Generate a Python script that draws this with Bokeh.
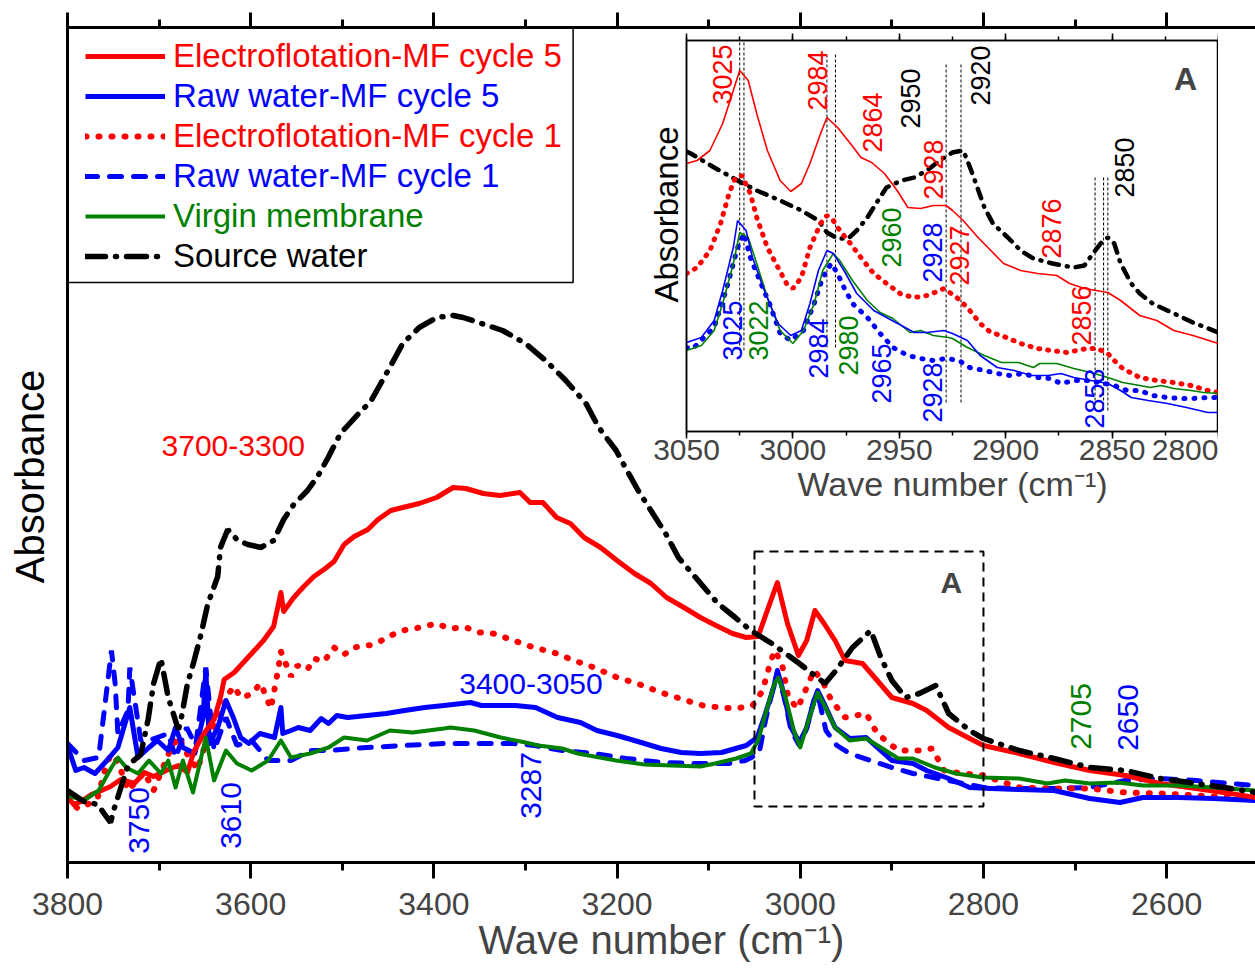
import math
from bokeh.plotting import figure
from bokeh.models import (Range1d, LinearAxis, SingleIntervalTicker, FixedTicker, Legend, LegendItem,
                          BoxAnnotation, Label, ColumnDataSource)
from bokeh.layouts import column
from bokeh.embed import file_html
from bokeh.resources import INLINE
from bokeh.core.properties import value

FONT = "Liberation Sans"
RED, BLUE, GREEN, BLACK = "#ff0000", "#0000ff", "#008000", "#000000"

# ---------------- main spectra (wave number, absorbance a.u.) ----------------
sw_wn = [3800, 3782, 3767, 3753, 3749, 3734, 3720, 3712, 3706, 3698, 3690, 3679, 3676, 3669, 3662, 3654,
         3647, 3636, 3633, 3625, 3614, 3603, 3589, 3575, 3564, 3553, 3538, 3527, 3516, 3502, 3491, 3480,
         3469, 3458, 3447, 3434, 3416, 3397, 3379, 3368, 3351, 3325, 3300, 3278, 3256, 3234, 3220, 3201,
         3191, 3177, 3161, 3147, 3133, 3118, 3104, 3090, 3071, 3054, 3031, 3001, 2973, 2961, 2943, 2923,
         2912, 2900, 2885, 2870, 2852, 2838, 2815, 2800, 2761, 2723, 2684, 2645, 2607, 2568, 2530, 2503]
sw_ab = [72, 61, 58, 40, 54, 97, 108, 143, 179, 204, 165, 133, 143, 179, 201, 229,
         258, 286, 315, 333, 322, 318, 315, 322, 343, 358, 372, 386, 404, 429, 440, 451,
         461, 479, 497, 519, 535, 545, 547, 545, 540, 532, 519, 502, 482, 459, 435, 412,
         395, 372, 349, 329, 305, 289, 274, 259, 245, 232, 219, 199, 179, 192, 215, 232,
         205, 182, 165, 169, 177, 149, 132, 124, 112, 104, 95, 92, 84, 79, 74, 70]

ef5_wn = [3800, 3793, 3785, 3774, 3763, 3753, 3742, 3727, 3716, 3706, 3690, 3679, 3669, 3662, 3651, 3640,
          3633, 3629, 3618, 3607, 3597, 3586, 3575, 3567, 3564, 3553, 3542, 3531, 3520, 3509, 3498, 3487,
          3472, 3461, 3447, 3434, 3416, 3397, 3379, 3365, 3346, 3328, 3306, 3295, 3281, 3266, 3251, 3236,
          3218, 3200, 3181, 3163, 3146, 3127, 3109, 3092, 3074, 3059, 3046, 3036, 3025, 3014, 3002, 2993,
          2984, 2974, 2962, 2951, 2932, 2916, 2900, 2877, 2862, 2838, 2815, 2800, 2761, 2723, 2684, 2645,
          2607, 2568, 2530, 2503]
ef5_ab = [65, 58, 61, 68, 72, 76, 83, 79, 90, 86, 93, 97, 90, 111, 129, 143,
          165, 183, 190, 201, 211, 222, 236, 270, 251, 265, 276, 286, 293, 301, 318, 326,
          333, 343, 352, 355, 359, 365, 375, 374, 369, 367, 370, 360, 360, 345, 339, 325,
          315, 302, 289, 279, 265, 255, 245, 237, 229, 225, 226, 252, 280, 239, 207, 222,
          252, 239, 222, 202, 199, 182, 165, 159, 152, 135, 124, 117, 109, 100, 92, 87,
          79, 74, 69, 65]

ef1_wn = [3800, 3789, 3778, 3767, 3760, 3753, 3745, 3734, 3727, 3716, 3706, 3698, 3690, 3679, 3669, 3658,
          3647, 3636, 3625, 3618, 3611, 3600, 3589, 3578, 3575, 3570, 3567, 3556, 3549, 3538, 3531, 3520,
          3509, 3498, 3487, 3465, 3447, 3434, 3416, 3397, 3383, 3365, 3350, 3335, 3313, 3291, 3269, 3247,
          3225, 3200, 3178, 3149, 3124, 3106, 3088, 3070, 3052, 3041, 3033, 3028, 3020, 3013, 3003, 2993,
          2985, 2976, 2966, 2951, 2928, 2916, 2893, 2870, 2856, 2843, 2823, 2800, 2761, 2723, 2684, 2645,
          2607, 2568, 2530, 2503]
ef1_ab = [65, 54, 58, 65, 90, 108, 101, 72, 79, 90, 72, 90, 108, 126, 108, 93,
          126, 143, 168, 176, 165, 168, 179, 154, 168, 193, 211, 186, 197, 193, 204, 201,
          215, 208, 215, 218, 227, 232, 235, 239, 234, 235, 230, 229, 222, 215, 210, 202,
          195, 185, 179, 169, 162, 157, 155, 154, 157, 172, 199, 212, 199, 165, 154, 175,
          192, 182, 162, 145, 149, 129, 112, 112, 114, 92, 89, 87, 75, 74, 74, 70,
          69, 67, 65, 64]

rw5_wn = [3800, 3791, 3782, 3770, 3757, 3745, 3732, 3723, 3711, 3702, 3690, 3682, 3674, 3661, 3652, 3649,
          3645, 3636, 3627, 3619, 3611, 3602, 3590, 3574, 3567, 3565, 3556, 3548, 3535, 3523, 3515, 3506,
          3494, 3473, 3452, 3432, 3410, 3389, 3360, 3348, 3311, 3289, 3265, 3240, 3222, 3200, 3181, 3152,
          3130, 3109, 3086, 3059, 3047, 3038, 3029, 3025, 3018, 3010, 3001, 2993, 2985, 2981, 2974, 2962,
          2946, 2928, 2916, 2900, 2877, 2862, 2838, 2815, 2792, 2761, 2723, 2684, 2651, 2626, 2587, 2549,
          2503]
rw5_ab = [117, 92, 95, 89, 102, 115, 155, 105, 115, 122, 112, 135, 115, 109, 145, 192,
          119, 135, 162, 145, 125, 119, 129, 125, 155, 129, 132, 135, 132, 144, 139, 147,
          145, 147, 149, 152, 155, 157, 160, 157, 157, 155, 145, 140, 132, 127, 122, 114,
          110, 109, 110, 117, 125, 149, 175, 192, 169, 135, 120, 135, 162, 172, 159, 135,
          124, 125, 115, 102, 99, 92, 84, 75, 74, 73, 72, 64, 60, 65, 65, 64,
          62]

rw1_wn = [3800, 3782, 3766, 3752, 3748, 3745, 3734, 3732, 3720, 3711, 3690, 3682, 3670, 3660, 3649, 3640,
          3627, 3615, 3599, 3581, 3556, 3535, 3515, 3473, 3432, 3389, 3348, 3313, 3290, 3260, 3225, 3190,
          3150, 3115, 3078, 3060, 3045, 3038, 3029, 3025, 3018, 3010, 3001, 2993, 2985, 2981, 2972, 2960,
          2946, 2923, 2900, 2877, 2838, 2800, 2761, 2723, 2684, 2645, 2607, 2568, 2530, 2503]
rw1_ab = [119, 102, 105, 212, 179, 129, 152, 195, 122, 122, 129, 105, 135, 117, 195, 112,
          145, 117, 122, 102, 102, 112, 112, 115, 117, 119, 119, 119, 117, 112, 109, 104,
          100, 99, 99, 102, 109, 142, 177, 189, 167, 132, 117, 134, 162, 169, 132, 117,
          109, 102, 95, 89, 82, 75, 74, 74, 75, 82, 84, 82, 79, 77]

vm_wn = [3800, 3782, 3766, 3752, 3745, 3736, 3723, 3711, 3698, 3690, 3682, 3674, 3663, 3649, 3640, 3627,
         3615, 3599, 3581, 3567, 3556, 3535, 3515, 3498, 3473, 3448, 3423, 3389, 3382, 3356, 3327, 3300,
         3286, 3260, 3243, 3201, 3170, 3140, 3109, 3093, 3070, 3054, 3046, 3036, 3028, 3024, 3016, 3007,
         3000, 2991, 2981, 2971, 2962, 2946, 2928, 2912, 2893, 2877, 2853, 2830, 2800, 2761, 2730, 2711,
         2684, 2653, 2626, 2587, 2549, 2503]
vm_ab = [67, 62, 72, 95, 105, 95, 89, 102, 89, 102, 75, 102, 70, 125, 82, 112,
         99, 92, 102, 122, 105, 109, 115, 125, 122, 132, 130, 134, 135, 132, 125, 120,
         117, 114, 109, 102, 98, 97, 96, 99, 104, 109, 122, 155, 179, 185, 165, 132,
         115, 142, 170, 152, 135, 122, 124, 115, 104, 104, 95, 89, 85, 84, 79, 82,
         79, 80, 77, 77, 75, 72]

# ---------------- inset spectra (3050-2800 cm-1) ----------------
i_ef5_wn = [3050, 3045, 3039, 3033, 3028, 3025, 3021, 3017, 3012, 3006, 3001, 2996, 2992, 2987, 2984, 2979,
            2973, 2968, 2963, 2957, 2951, 2946, 2940, 2934, 2928, 2925, 2920, 2913, 2907, 2901, 2893, 2885,
            2876, 2870, 2863, 2852, 2846, 2837, 2829, 2821, 2812, 2800]
i_ef5_ab = [268, 271, 281, 308, 341, 361, 351, 318, 281, 251, 240, 248, 268, 298, 314, 304,
            288, 274, 269, 258, 241, 224, 223, 226, 226, 221, 211, 194, 181, 168, 161, 158,
            156, 148, 143, 139, 131, 116, 111, 101, 96, 88]

i_ef1_wn = [3050, 3045, 3039, 3034, 3030, 3027, 3024, 3020, 3017, 3012, 3007, 3003, 3000, 2996, 2992, 2987,
            2984, 2981, 2978, 2973, 2967, 2962, 2956, 2949, 2943, 2937, 2931, 2929, 2923, 2918, 2912, 2907,
            2902, 2893, 2885, 2879, 2871, 2862, 2857, 2852, 2849, 2845, 2837, 2829, 2821, 2813, 2805, 2800]
i_ef1_ab = [158, 164, 181, 208, 238, 254, 256, 238, 214, 184, 164, 148, 143, 154, 184, 208,
            216, 211, 201, 188, 171, 158, 148, 137, 134, 136, 141, 143, 134, 124, 108, 99,
            96, 88, 83, 81, 79, 83, 83, 78, 71, 63, 54, 51, 49, 46, 41, 39]

i_sw_wn = [3050, 3048, 3037, 3026, 3017, 3006, 2996, 2988, 2984, 2979, 2974, 2970, 2965, 2960, 2956, 2949,
           2943, 2937, 2931, 2925, 2920, 2918, 2915, 2910, 2906, 2899, 2893, 2887, 2878, 2868, 2863, 2859,
           2855, 2852, 2849, 2846, 2841, 2837, 2831, 2821, 2812, 2800]
i_sw_ab = [280, 278, 264, 251, 241, 231, 221, 211, 199, 193, 193, 201, 214, 231, 244, 251,
           254, 261, 271, 279, 281, 271, 254, 224, 208, 194, 181, 173, 168, 164, 166, 178,
           189, 194, 188, 168, 148, 138, 128, 118, 109, 99]

i_rw5_wn = [3050, 3043, 3037, 3033, 3028, 3026, 3022, 3019, 3014, 3007, 3001, 2996, 2992, 2988, 2984, 2981,
            2976, 2970, 2962, 2956, 2949, 2943, 2937, 2929, 2925, 2918, 2912, 2904, 2896, 2888, 2880, 2874,
            2868, 2860, 2852, 2846, 2841, 2833, 2824, 2815, 2805, 2800]
i_rw5_ab = [89, 94, 111, 141, 184, 211, 201, 174, 144, 108, 96, 101, 128, 161, 181, 178,
            161, 138, 121, 114, 106, 99, 99, 101, 98, 91, 76, 64, 61, 56, 56, 58,
            54, 51, 48, 41, 34, 31, 28, 24, 19, 19]

i_vm_wn = [3050, 3043, 3037, 3033, 3028, 3025, 3021, 3017, 3012, 3006, 3000, 2995, 2990, 2986, 2981, 2978,
           2972, 2965, 2959, 2953, 2945, 2940, 2934, 2927, 2925, 2918, 2910, 2902, 2894, 2887, 2884, 2876,
           2868, 2860, 2852, 2845, 2837, 2832, 2827, 2821, 2813, 2807, 2800]
i_vm_ab = [81, 86, 101, 128, 168, 199, 194, 168, 134, 101, 88, 101, 128, 161, 178, 171,
           151, 131, 119, 113, 99, 101, 96, 94, 93, 84, 76, 69, 69, 64, 68, 68,
           63, 59, 54, 49, 46, 44, 46, 43, 41, 39, 38]

i_rw1_wn = [3050, 3047, 3037, 3031, 3026, 3023, 3020, 3015, 3011, 3006, 3001, 2995, 2990, 2986, 2982, 2979,
            2976, 2972, 2965, 2959, 2953, 2946, 2940, 2934, 2928, 2922, 2917, 2910, 2904, 2898, 2892, 2885,
            2879, 2874, 2868, 2862, 2856, 2849, 2843, 2837, 2831, 2824, 2818, 2812, 2805, 2800]
i_rw1_ab = [84, 83, 104, 144, 184, 198, 174, 148, 128, 98, 91, 101, 128, 154, 168, 158,
            144, 128, 114, 98, 84, 76, 73, 71, 73, 71, 64, 61, 58, 56, 58, 54,
            53, 48, 51, 51, 49, 46, 41, 41, 36, 34, 33, 33, 34, 34]

# band markers in the inset (dashed guide lines)
mark_wn = [3025, 3023, 2984, 2980, 2928, 2921, 2858, 2854, 2852]
mark_top = [389, 389, 379, 379, 369, 369, 256, 256, 256]
mark_bottom = [81, 81, 84, 84, 29, 29, 21, 21, 21]

# peak labels
main_lbl_text = ["3700-3300", "3400-3050", "3750", "3610", "3287", "2705", "2650"]
main_lbl_x = [3619, 3294, 3722, 3622, 3294, 2693, 2642]
main_lbl_y = [417, 179, 42, 47, 77, 146, 145]
main_lbl_color = [RED, BLUE, BLUE, BLUE, BLUE, GREEN, BLUE]
main_lbl_angle = [0, 0, 90, 90, 90, 90, 90]

ins_lbl_text = ["3025", "2984", "2864", "2950", "2928", "3025", "3022", "2984", "2980", "2965",
                "2960", "2928", "2928", "2927", "2920", "2876", "2850", "2856", "2853"]
ins_lbl_x = [3033.1, 2988.4, 2962.6, 2944.7, 2934.0, 3028.4, 3016.2, 2988.0, 2973.9, 2958.4,
             2953.7, 2934.4, 2934.4, 2921.7, 2911.8, 2878.5, 2844.2, 2864.4, 2858.3]
ins_lbl_y = [357, 351, 309, 333, 262, 101, 101, 83, 86, 58,
             194, 179, 39, 176, 356, 203, 264, 116, 33]
ins_lbl_color = [RED, RED, RED, BLACK, RED, BLUE, GREEN, BLUE, GREEN, BLUE,
                 GREEN, BLUE, BLUE, RED, BLACK, RED, BLACK, RED, BLUE]

series_names = ["Electroflotation-MF cycle 5", "Raw water-MF cycle 5", "Electroflotation-MF cycle 1",
                "Raw water-MF cycle 1", "Virgin membrane", "Source water"]

# where the y titles sit along each y axis (absorbance units of the axis)
main_ytitle_pos = 386
inset_ytitle_pos = 217


def silent_labels(axis, standoff):
    axis.major_label_text_font_size = "0px"
    axis.major_label_text_color = None
    axis.major_label_standoff = standoff


def title_axis(axis, pos, size, standoff, line_width):
    """Left axis without ticks whose only label is the vertical axis title."""
    axis.ticker = FixedTicker(ticks=[pos])
    axis.major_label_overrides = {pos: "Absorbance"}
    axis.major_label_orientation = "vertical"
    axis.major_label_text_font = FONT
    axis.major_label_text_font_size = size
    axis.major_label_text_color = "black"
    axis.major_label_standoff = standoff
    axis.axis_line_width = line_width
    axis.major_tick_out = 0
    axis.major_tick_in = 0
    axis.minor_tick_out = 0
    axis.minor_tick_in = 0


# ---------------- main figure ----------------
p = figure(width=1255, height=961, output_backend="svg", toolbar_location=None, title=None,
           x_range=Range1d(3800, 2503), y_range=Range1d(0, 835),
           min_border_left=67, min_border_right=0, min_border_top=15, min_border_bottom=111,
           x_axis_label="Wave number (cm\u207b\u00b9)")
p.outline_line_color = None
p.xgrid.visible = False
p.ygrid.visible = False
p.background_fill_color = "white"
p.border_fill_color = "white"

xa = p.xaxis[0]
xa.ticker = SingleIntervalTicker(interval=200, num_minor_ticks=2)
xa.axis_line_width = 3
xa.major_tick_line_width = 3
xa.minor_tick_line_width = 3
xa.major_tick_out = 16
xa.major_tick_in = 0
xa.minor_tick_out = 8
xa.minor_tick_in = 0
xa.major_label_text_font = FONT
xa.major_label_text_font_size = "32px"
xa.major_label_standoff = 14
xa.axis_label_text_font = FONT
xa.axis_label_text_font_size = "40px"
xa.axis_label_text_font_style = "normal"
xa.axis_label_standoff = 0

title_axis(p.yaxis[0], main_ytitle_pos, "40px", 16, 3)

top = LinearAxis(ticker=SingleIntervalTicker(interval=200, num_minor_ticks=2),
                 axis_line_width=3, major_tick_line_width=3, minor_tick_line_width=3,
                 major_tick_out=15, major_tick_in=0, minor_tick_out=8, minor_tick_in=0)
silent_labels(top, 0)
p.add_layout(top, "above")

r_rw1 = p.line(rw1_wn, rw1_ab, line_color=BLUE, line_width=5, line_dash="12 12", line_cap="round")
r_ef1 = p.line(ef1_wn, ef1_ab, line_color=RED, line_width=6, line_dash="1 12", line_cap="round")
r_rw5 = p.line(rw5_wn, rw5_ab, line_color=BLUE, line_width=5, line_join="round")
r_ef5 = p.line(ef5_wn, ef5_ab, line_color=RED, line_width=5, line_join="round")
r_vm = p.line(vm_wn, vm_ab, line_color=GREEN, line_width=4, line_join="round")
r_sw = p.line(sw_wn, sw_ab, line_color=BLACK, line_width=5.5, line_dash="20 10 1 10", line_cap="round")

p.text(x="x", y="y", text="text", angle="angle", angle_units="deg", text_color="color",
       source=ColumnDataSource(dict(x=main_lbl_x, y=main_lbl_y, text=main_lbl_text,
                                    color=main_lbl_color, angle=main_lbl_angle)),
       text_font=value(FONT), text_font_size=value("30px"), text_align="center", text_baseline="middle")

# dashed region A
p.add_layout(BoxAnnotation(left=3050, right=2800, bottom=56, top=311, fill_alpha=0,
                           line_color="black", line_alpha=1, line_width=2, line_dash="9 6"))
p.add_layout(Label(x=2835, y=280, text="A", text_font=FONT, text_font_size="30px",
                   text_font_style="bold", text_align="center", text_baseline="middle"))

# legend frame and items
p.add_layout(BoxAnnotation(left=3800, right=3248, bottom=580, top=835, fill_alpha=0,
                           line_color="black", line_alpha=1, line_width=1.5))
leg_renderers = [r_ef5, r_rw5, r_ef1, r_rw1, r_vm, r_sw]
leg_colors = [RED, BLUE, RED, BLUE, GREEN, BLACK]
leg_centers = [56, 96, 136, 176, 216, 256]
for name, rend, col, yc in zip(series_names, leg_renderers, leg_colors, leg_centers):
    lg = Legend(items=[LegendItem(label=name, renderers=[rend])],
                location=(18, 862 - (yc + 20)), padding=0, margin=0, spacing=0,
                glyph_width=80, glyph_height=40, label_height=40, label_standoff=8,
                label_text_font=FONT, label_text_font_size="33px", label_text_color=col,
                border_line_alpha=0, background_fill_alpha=0)
    p.add_layout(lg, "center")

# ---------------- inset figure ----------------
q = figure(width=599, height=501, output_backend="svg", toolbar_location=None, title=None,
           x_range=Range1d(3050, 2800), y_range=Range1d(0, 391),
           min_border_left=67, min_border_right=0, min_border_top=20, min_border_bottom=90,
           x_axis_label="Wave number (cm\u207b\u00b9)")
q.background_fill_color = "white"
q.border_fill_color = None
q.outline_line_color = "black"
q.outline_line_width = 1.5
q.xgrid.visible = False
q.ygrid.visible = False

qx = q.xaxis[0]
qx.ticker = SingleIntervalTicker(interval=50, num_minor_ticks=2)
qx.axis_line_width = 1.5
qx.major_tick_line_width = 1.5
qx.minor_tick_line_width = 1.5
qx.major_tick_out = 7
qx.major_tick_in = 0
qx.minor_tick_out = 4
qx.minor_tick_in = 0
qx.major_label_text_font = FONT
qx.major_label_text_font_size = "30px"
qx.major_label_standoff = 1
qx.axis_label_text_font = FONT
qx.axis_label_text_font_size = "34px"
qx.axis_label_text_font_style = "normal"
qx.axis_label_standoff = 2

title_axis(q.yaxis[0], inset_ytitle_pos, "33px", 2, 1.5)

qtop = LinearAxis(ticker=SingleIntervalTicker(interval=50, num_minor_ticks=2),
                  axis_line_width=1.5, major_tick_line_width=1.5, minor_tick_line_width=1.5,
                  major_tick_out=7, major_tick_in=0, minor_tick_out=4, minor_tick_in=0)
silent_labels(qtop, 0)
q.add_layout(qtop, "above")

q.segment(x0=mark_wn, y0=mark_bottom, x1=mark_wn, y1=mark_top,
          line_color="black", line_width=1, line_dash="3 2")
q.line(i_sw_wn, i_sw_ab, line_color=BLACK, line_width=4.5, line_dash="10 8 1 8", line_cap="round")
q.line(i_ef1_wn, i_ef1_ab, line_color=RED, line_width=5, line_dash="1 8", line_cap="round")
q.line(i_rw1_wn, i_rw1_ab, line_color=BLUE, line_width=5, line_dash="1 9", line_cap="round")
q.line(i_ef5_wn, i_ef5_ab, line_color=RED, line_width=1.6)
q.line(i_vm_wn, i_vm_ab, line_color=GREEN, line_width=1.6)
q.line(i_rw5_wn, i_rw5_ab, line_color=BLUE, line_width=1.6)

q.text(x="x", y="y", text="text", angle=90, angle_units="deg", text_color="color",
       source=ColumnDataSource(dict(x=ins_lbl_x, y=ins_lbl_y, text=ins_lbl_text, color=ins_lbl_color)),
       text_font=value(FONT), text_font_size=value("27px"), text_align="center", text_baseline="middle")
q.add_layout(Label(x=2815.5, y=353, text="A", text_font=FONT, text_font_size="32px",
                   text_font_style="bold", text_align="center", text_baseline="middle"))

# placement: main at top (shifted down 12 px), inset overlaid top-right
p.margin = (12, 0, 0, 0)               # occupies y 12..973, frame x 67..1255
q.margin = (-(973 - 20), 0, 0, 619)    # occupies y 20..521, frame x 686..1218

layout = column(p, q, spacing=0)
open("out.html", "w").write(file_html(layout, INLINE))
